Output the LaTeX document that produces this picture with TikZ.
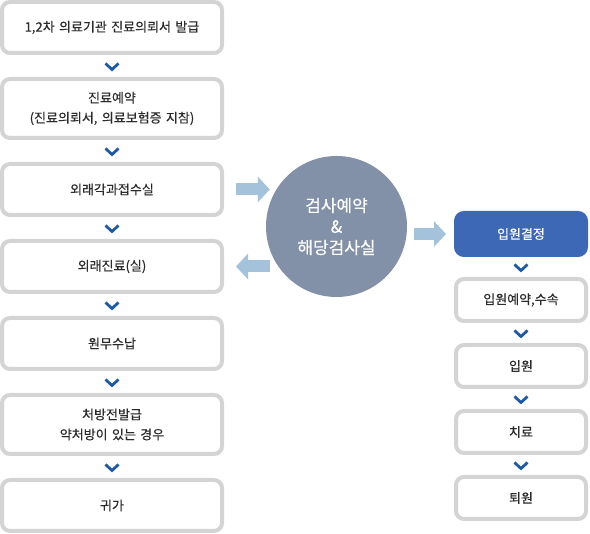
\documentclass[tikz,border=0pt]{standalone}
\usepackage{fontspec}
\setmainfont{Noto Sans CJK KR}[FakeBold=0.4]
\usepackage{tikz}
\usetikzlibrary{calc,positioning,arrows.meta}
\definecolor{boxgray}{HTML}{D4D4D4}
\definecolor{txtgray}{HTML}{2B2B2B}
\definecolor{chevblue}{HTML}{1C5AA5}
\definecolor{boxblue}{HTML}{3D68B5}
\definecolor{circgray}{HTML}{8291A7}
\definecolor{arrblue}{HTML}{A4C3DB}
\tikzset{
	punkt/.style={
		rectangle,
		rounded corners=8pt,
		draw=boxgray, line width=4pt,
		fill=white,
		text=txtgray,
		font=\fontsize{13}{20}\selectfont,
		text width=210pt,
		minimum width=220pt,
		minimum height=51pt,
		inner sep=0pt, outer sep=0pt,
		text centered},
	rpunkt/.style={
		punkt,
		text width=120pt,
		minimum width=130pt,
		minimum height=42pt},
	rblau/.style={
		rpunkt,
		draw=boxblue, fill=boxblue,
		text=white},
	kreis/.style={
		circle,
		fill=circgray,
		minimum size=141pt,
		inner sep=0pt,
		text=white,
		font=\fontsize{17}{21}\selectfont,
		align=center},
	chev/.style={draw=chevblue, line width=2.8pt},
	bigarr/.style={draw=arrblue, line width=12pt, -{Triangle[width=25pt,length=12pt]}},
}
\begin{document}
\begin{tikzpicture}
			[x=1pt, y=1pt]
			\useasboundingbox (0,0) rectangle (590,534);
			% linke Spalte
			\node[punkt] (L1) at (112,506.5) {1,2차 의료기관 진료의뢰서 발급};
			\node[punkt, minimum height=59pt, below=26pt of L1] (L2) {진료예약\\(진료의뢰서, 의료보험증 지참)};
			\node[punkt, below=26pt of L2] (L3) {외래각과접수실};
			\node[punkt, below=26pt of L3] (L4) {외래진료(실)};
			\node[punkt, below=26pt of L4] (L5) {원무수납};
			\node[punkt, minimum height=59pt, below=26pt of L5] (L6) {처방전발급\\약처방이 있는 경우};
			\node[punkt, below=26pt of L6] (L7) {귀가};
			% Mitte
			\node[kreis] (K) at (336.5,307.5) {검사예약\\\&\\해당검사실};
			% rechte Spalte
			\node[rblau] (R1) at (521,300) {입원결정};
			\node[rpunkt, below=24pt of R1] (R2) {입원예약,수속};
			\node[rpunkt, below=24pt of R2] (R3) {입원};
			\node[rpunkt, below=24pt of R3] (R4) {치료};
			\node[rpunkt, below=24pt of R4] (R5) {퇴원};
			% Pfeile
			\foreach \a/\b in {L1/L2,L2/L3,L3/L4,L4/L5,L5/L6,L6/L7,R1/R2,R2/R3,R3/R4,R4/R5}
				\draw[chev] ($(\a.south)!.5!(\b.north)$) +(-6.5,2.5) -- +(0,-3.5) -- +(6.5,2.5);
			\draw[bigarr, shorten <=14pt, shorten >=-4pt] (L3.east) -- (L3.east -| K.west);
			\draw[bigarr, shorten <=-4pt, shorten >=14pt] (L4.east -| K.west) -- (L4.east);
			\draw[bigarr, shorten <=6.5pt, shorten >=10pt] (K.east |- R1.west) -- (R1.west);
			\end{tikzpicture}
\end{document}
